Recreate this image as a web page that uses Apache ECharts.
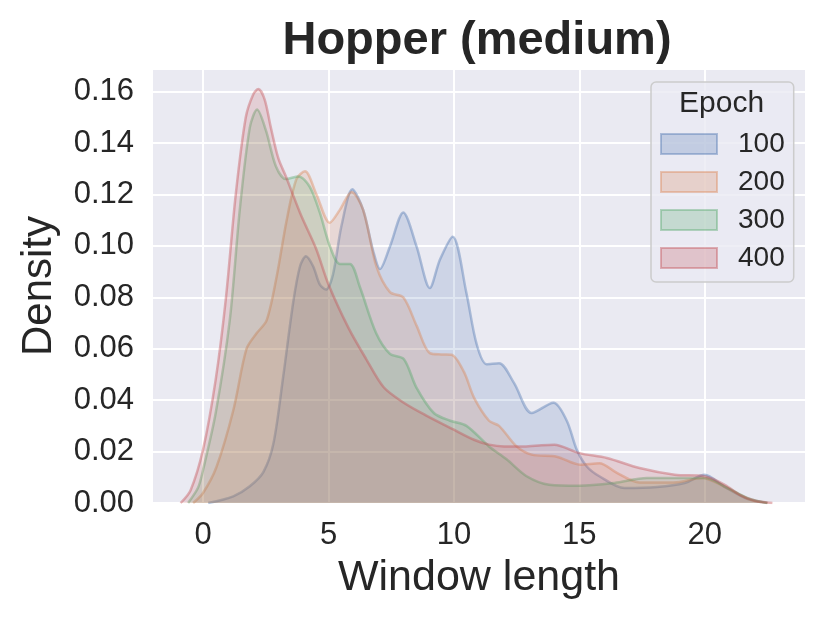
<!DOCTYPE html>
<html>
<head>
<meta charset="utf-8">
<script src="https://cdn.jsdelivr.net/npm/echarts@6/dist/echarts.min.js"></script>
<style>html,body{margin:0;padding:0;background:#fff;}#c{width:830px;height:623px;}</style>
</head>
<body>
<div id="c"></div>
<script>
const seriesNames = ['100', '200', '300', '400'];
const colors = ['76,114,176', '221,132,82', '85,168,104', '196,78,82'];

const x100 = [0.2, 1.2, 1.86, 2.4, 2.8, 3.19, 3.59, 3.86, 4.1, 4.39, 4.65, 4.9, 5.18, 5.52, 5.95, 6.38, 6.78, 7.05, 7.45, 7.98, 8.51, 9.04, 9.44, 9.95, 10.5, 10.9, 11.3, 11.8, 12.4, 13.1, 13.97, 14.5, 14.9, 15.3, 15.8, 16.8, 18.1, 19.2, 20.0, 20.76, 21.7, 22.5];
const y100 = [0, 0.0026, 0.0065, 0.012, 0.023, 0.049, 0.078, 0.092, 0.096, 0.092, 0.085, 0.083, 0.089, 0.108, 0.122, 0.114, 0.098, 0.091, 0.0998, 0.113, 0.0998, 0.0836, 0.0946, 0.1036, 0.0816, 0.062, 0.054, 0.0544, 0.0466, 0.035, 0.039, 0.032, 0.0207, 0.0142, 0.0104, 0.0058, 0.0062, 0.0078, 0.011, 0.0065, 0.0016, 0];

const x200 = [-0.4, 0, 0.53, 1.2, 1.73, 2.13, 2.53, 2.93, 3.33, 3.72, 4.06, 4.52, 5.05, 5.45, 5.92, 6.38, 6.91, 7.45, 7.98, 8.51, 9.04, 9.5, 9.9, 10.4, 10.8, 11.4, 11.8, 12.5, 13.1, 14.1, 15.04, 15.8, 16.5, 17.4, 18.76, 19.9, 20.76, 21.8, 22.5];
const y200 = [0, 0.004, 0.014, 0.036, 0.060, 0.066, 0.071, 0.088, 0.110, 0.126, 0.129, 0.120, 0.109, 0.114, 0.121, 0.114, 0.092, 0.082, 0.080, 0.069, 0.0583, 0.0578, 0.0577, 0.051, 0.041, 0.032, 0.030, 0.022, 0.0188, 0.018, 0.0149, 0.0155, 0.0117, 0.008, 0.008, 0.0097, 0.0065, 0.0013, 0];

const x300 = [-0.6, -0.2, 0, 0.5, 1.06, 1.46, 1.86, 2.15, 2.5, 2.9, 3.3, 3.8, 4.25, 4.65, 5.05, 5.45, 5.85, 6.25, 6.9, 7.45, 8.0, 8.5, 9.2, 9.85, 10.5, 11.4, 12.1, 12.9, 13.8, 15.0, 16.4, 17.7, 18.8, 20.0, 20.8, 21.7, 22.5];
const y300 = [0, 0.006, 0.013, 0.035, 0.071, 0.114, 0.146, 0.153, 0.145, 0.131, 0.126, 0.127, 0.123, 0.113, 0.100, 0.093, 0.093, 0.084, 0.066, 0.058, 0.056, 0.045, 0.035, 0.032, 0.030, 0.022, 0.017, 0.0104, 0.0071, 0.0067, 0.0078, 0.0097, 0.0097, 0.0097, 0.0065, 0.002, 0];

const x400 = [-0.9, -0.5, 0, 0.5, 0.9, 1.3, 1.7, 2.0, 2.2, 2.45, 2.7, 3.0, 3.3, 3.9, 4.5, 5.0, 5.8, 6.5, 7.2, 8.0, 8.9, 10.0, 10.8, 11.4, 12.0, 12.8, 13.5, 14.0, 15.0, 16.1, 17.4, 18.8, 20.0, 20.8, 21.4, 22.0, 22.7];
const y400 = [0, 0.005, 0.021, 0.048, 0.079, 0.12, 0.150, 0.159, 0.161, 0.157, 0.146, 0.134, 0.127, 0.112, 0.099, 0.085, 0.068, 0.056, 0.045, 0.039, 0.034, 0.0285, 0.0246, 0.0227, 0.022, 0.022, 0.0225, 0.0227, 0.0194, 0.0175, 0.0136, 0.011, 0.0104, 0.0071, 0.0032, 0.001, 0];

const xTicks = [0, 5, 10, 15, 20];
const yTicks = [0, 0.02, 0.04, 0.06, 0.08, 0.10, 0.12, 0.14, 0.16];

const xs = [x100, x200, x300, x400];
const ys = [y100, y200, y300, y400];

const font = '"Liberation Sans", Arial, Helvetica, sans-serif';
const txt = '#262626';

const chart = echarts.init(document.getElementById('c'), null, {renderer: 'canvas'});

const series = seriesNames.map((name, i) => ({
  name: name,
  type: 'line',
  data: xs[i].map((x, j) => [x, ys[i][j]]),
  smooth: 0.3,
  showSymbol: false,
  symbol: 'none',
  color: 'rgb(' + colors[i] + ')',
  lineStyle: {color: 'rgba(' + colors[i] + ',0.4)', width: 2.5},
  areaStyle: {color: 'rgba(' + colors[i] + ',0.25)', origin: 'start'},
  z: 3 + i,
  silent: true
}));

// vertical grid lines at the x ticks, drawn beneath the filled areas
series.unshift({
  name: 'grid',
  type: 'line',
  data: [],
  z: 1,
  silent: true,
  markLine: {
    z: 1,
    silent: true, symbol: 'none', animation: false,
    label: {show: false},
    lineStyle: {color: '#ffffff', width: 2, type: 'solid'},
    data: xTicks.map(v => ({xAxis: v}))
  }
});

chart.setOption({
  animation: false,
  backgroundColor: '#ffffff',
  textStyle: {fontFamily: font, color: txt},
  title: {
    text: 'Hopper (medium)',
    left: 472, textAlign: 'center',
    top: 13,
    textStyle: {fontSize: 47, fontWeight: 'bold', color: txt, fontFamily: font}
  },
  grid: {
    left: 153, right: 25, top: 69, bottom: 120,
    show: true, backgroundColor: '#eaeaf2', borderWidth: 0
  },
  xAxis: {
    type: 'value',
    min: -2, max: 24, interval: 1,
    name: 'Window length', nameLocation: 'middle', nameGap: 54,
    nameTextStyle: {fontSize: 43, color: txt, fontFamily: font},
    axisLine: {show: false}, axisTick: {show: false},
    axisLabel: {
      fontSize: 31, color: txt, fontFamily: font, margin: 17,
      formatter: v => xTicks.includes(Math.round(v * 1000) / 1000) ? String(Math.round(v)) : ''
    },
    splitLine: {show: false}
  },
  yAxis: {
    type: 'value',
    min: 0, max: 0.1688, interval: 0.02,
    name: 'Density', nameLocation: 'middle', nameGap: 93, nameRotate: 90,
    nameTextStyle: {fontSize: 42, color: txt, fontFamily: font},
    axisLine: {show: false}, axisTick: {show: false},
    axisLabel: {
      fontSize: 31, color: txt, fontFamily: font, margin: 19,
      formatter: v => yTicks.some(t => Math.abs(t - v) < 1e-6) ? v.toFixed(2) : ''
    },
    splitLine: {show: true, lineStyle: {color: '#ffffff', width: 2}}
  },
  legend: {
    left: 651, top: 82, orient: 'vertical',
    padding: [48, 9, 10, 9],
    itemGap: 10, itemWidth: 56, itemHeight: 20,
    backgroundColor: 'rgba(234,234,242,0.8)',
    borderColor: '#cccccc', borderWidth: 1.5, borderRadius: 5,
    textStyle: {fontSize: 28, color: txt, fontFamily: font, padding: [0, 0, 0, 16]},
    data: seriesNames.map((n, i) => ({
      name: n, icon: 'rect',
      itemStyle: {color: 'rgba(' + colors[i] + ',0.25)', borderColor: 'rgba(' + colors[i] + ',0.4)', borderWidth: 2}
    }))
  },
  graphic: [{
    type: 'text', left: 679, top: 89, z: 100,
    style: {text: 'Epoch', fontSize: 30, fill: txt, fontFamily: font}
  }],
  series: series
});
</script>
</body>
</html>
